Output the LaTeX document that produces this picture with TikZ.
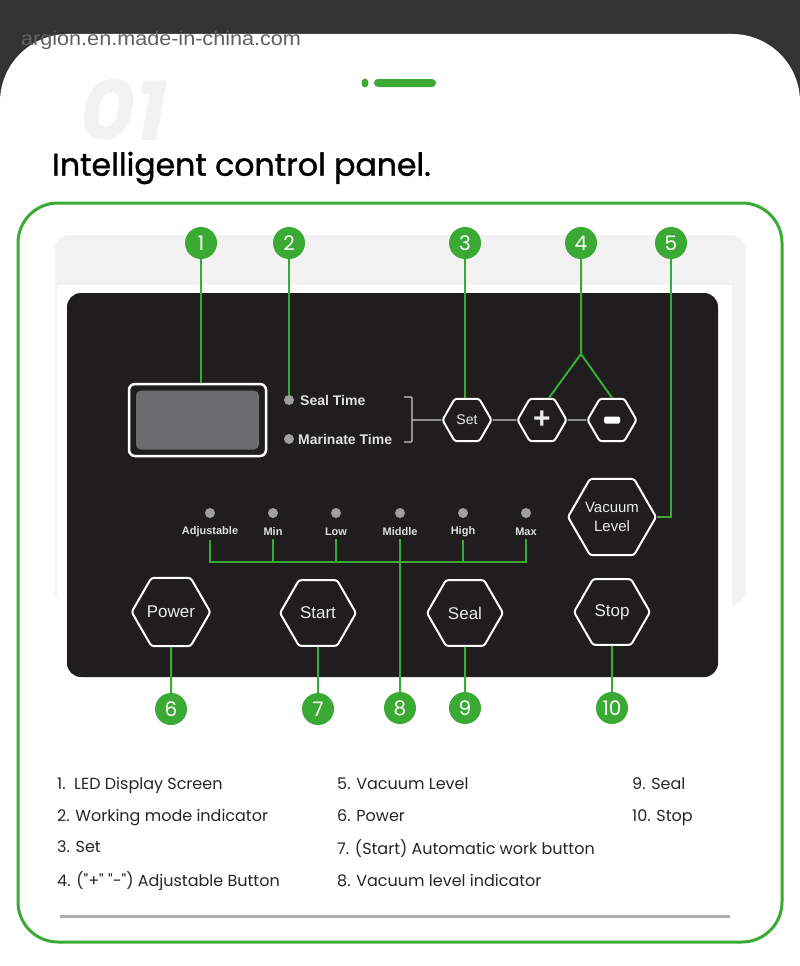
\documentclass[tikz,border=0pt]{standalone}
\usepackage{fontspec}
\setmainfont{Poppins}[Ligatures=TeXOff]
\newfontfamily\panelfont{Liberation Sans}
\newfontfamily\titlefont{Poppins}[FakeBold=1.2]
\usetikzlibrary{shapes.geometric, positioning}
\definecolor{leafgreen}{HTML}{3AAA35}
\definecolor{panelblack}{HTML}{1F1D1E}
\definecolor{ledgray}{HTML}{6B6C6E}
\definecolor{backgray}{HTML}{F2F2F2}
\definecolor{topdark}{HTML}{333333}

\begin{document}
\begin{tikzpicture}[
	x=1pt, y=-1pt,
	hexbtn/.style = {shape=regular polygon, regular polygon sides=6, draw=white, line width=2pt,
		rounded corners=2.5pt, fill=panelblack, text=white!92!black, inner sep=0pt,
		minimum size=#1, align=center, font=\panelfont\fontsize{17}{19}\selectfont},
	hexbtn/.default = 76pt,
	numball/.style = {circle, fill=leafgreen, text=white, minimum size=32pt, inner sep=0pt,
		font=\fontsize{20}{20}\selectfont},
	lead/.style = {draw=leafgreen, line width=2pt},
	wire/.style = {draw=white!80!black, line width=1.3pt},
	ledot/.style = {circle, fill=gray!75, minimum size=10pt, inner sep=0pt},
	paneltxt/.style = {text=white!88!black, inner sep=3pt, font=\panelfont\bfseries\fontsize{11}{12}\selectfont},
	modetxt/.style = {paneltxt, anchor=west, font=\panelfont\bfseries\fontsize{14}{15}\selectfont},
	listtxt/.style = {anchor=base west, inner sep=0pt, text=black!85, font=\fontsize{16}{18}\selectfont}
	]
	\useasboundingbox (0,0) rectangle (800,966);
	\clip (0,0) rectangle (800,966);
%
	\fill[topdark] (0,0) rectangle (800,140);
	\fill[white, rounded corners=68pt] (0,34) rectangle (800,1100);
	\node[anchor=west, inner sep=0pt, text=black!62, xscale=1.08, font=\panelfont\fontsize{20}{21}\selectfont]
		(mark) at (21,40) {argion.en.made-in-china.com};
	\fill[leafgreen] (365,83) ellipse (3.5 and 4.5);
	\fill[leafgreen, rounded corners=4pt] (374,79) rectangle (436,87);
	\node[inner sep=0pt, text=black!5, font=\bfseries\itshape\fontsize{84}{84}\selectfont]
		(bignum) at (124,110) {01};
	\node[anchor=west, inner sep=0pt, font=\titlefont\fontsize{31.5}{34}\selectfont]
		(title) at (52,168) {Intelligent control panel.};
%
	\draw[leafgreen, line width=3pt, rounded corners=40pt] (18,203) rectangle (782,942);
	\fill[backgray, rounded corners=14pt] (55,235) rectangle (745,605);
	\fill[white] (57,285) rectangle (732,606);
	\fill[panelblack, rounded corners=14pt] (67,293) rectangle (718,677);
%
	\node[draw=white, line width=2.5pt, fill=panelblack, rounded corners=6pt,
		minimum width=137pt, minimum height=72pt] (lcd) at (197.5,420) {};
	\node[fill=ledgray, rounded corners=5pt, minimum width=123pt, minimum height=59pt]
		(lcdglass) at (lcd.center) {};
	\node[ledot] (sealdot) at (289,400) {};
	\node[ledot] (marinatedot) at (289,439) {};
	\node[modetxt] (sealtxt) at (297,400) {Seal Time};
	\node[modetxt] (marinatetxt) at (295,439) {Marinate Time};
	\coordinate (brk) at (412,420);
	\draw[wire, rounded corners=1pt] (404,397) -| (412,442) -- (404,442);
%
	\node[hexbtn=49pt, font=\panelfont\fontsize{14}{14}\selectfont] (set) at (467,420) {Set};
	\node[hexbtn=49pt, font=\panelfont\bfseries\fontsize{30}{30}\selectfont] (plus) at (542,420) {+};
	\node[hexbtn=49pt] (minus) at (612,420) {};
	\fill[white, rounded corners=1.5pt] ([xshift=-8pt,yshift=-3.5pt]minus.center)
		rectangle ([xshift=8pt,yshift=3.5pt]minus.center);
	\draw[wire] (brk) -- (set.west);
	\draw[wire] (set.east) -- (plus.west);
	\draw[wire] (plus.east) -- (minus.west);
	\node[hexbtn=75pt, font=\panelfont\fontsize{15}{19}\selectfont] (vacuum) at (612,517) {Vacuum\\Level};
%
	\foreach \x/\t [count=\i] in {210/Adjustable,273/Min,336/Low,400/Middle,463/High,526/Max} {
		\node[ledot] (d\i) at (\x,513) {};
		\node[paneltxt] (lv\i) at (\x,532) {\t};
	}
	\coordinate (bus) at (0,562);
%
	\node[hexbtn] (power) at (171,612) {Power};
	\node[hexbtn] (start) at (318,613) {Start};
	\node[hexbtn] (seal) at (465,613) {Seal};
	\node[hexbtn] (stop) at (612,612) {Stop};
%
	\node[numball] (n1) at (201,243) {1};
	\node[numball] (n2) at (289,243) {2};
	\node[numball] (n3) at (465,243) {3};
	\node[numball] (n4) at (581,243) {4};
	\node[numball] (n5) at (671,243) {5};
	\node[numball] (n6) at (171,709) {6};
	\node[numball] (n7) at (318,709) {7};
	\node[numball] (n8) at (400,708) {8};
	\node[numball] (n9) at (465,708) {9};
	\node[numball] (n10) at (612,708) {10};
	\coordinate (fork) at (581,354);
%
	\draw[lead] (n1) -- (n1 |- lcd.north);
	\draw[lead] (n2) -- (sealdot);
	\draw[lead] (n3) -- (n3 |- set.north);
	\draw[lead] (n4) -- (fork) -- ([xshift=7pt]plus.north);
	\draw[lead] (fork) -- (minus.north);
	\draw[lead] (n5) |- (vacuum.east);
	\draw[lead] (lv1.south) -- (lv1.south |- bus) -| (lv6.south);
	\foreach \i in {2,3,5}
		\draw[lead] (lv\i.south) -- (lv\i.south |- bus);
	\draw[lead] (lv4.south) -- (n8);
	\draw[lead] (power) -- (n6);
	\draw[lead] (start) -- (n7);
	\draw[lead] (seal) -- (n9);
	\draw[lead] (stop) -- (n10);
%
	\node[listtxt] (item1) at (57,789) {1.\ \ LED Display Screen};
	\node[listtxt] (item2) at (57,821) {2. Working mode indicator};
	\node[listtxt] (item3) at (57,852) {3. Set};
	\node[listtxt] (item4) at (57,886) {4. ("+" "-") Adjustable Button};
	\node[listtxt] (item5) at (337,789) {5. Vacuum Level};
	\node[listtxt] (item6) at (337,821) {6. Power};
	\node[listtxt] (item7) at (337,854) {7. (Start) Automatic work button};
	\node[listtxt] (item8) at (337,886) {8. Vacuum level indicator};
	\node[listtxt] (item9) at (632,789) {9. Seal};
	\node[listtxt] (item10) at (632,821) {10. Stop};
	\draw[black!32, line width=3pt] (60,916) -- (730,916);
\end{tikzpicture}
\end{document}
